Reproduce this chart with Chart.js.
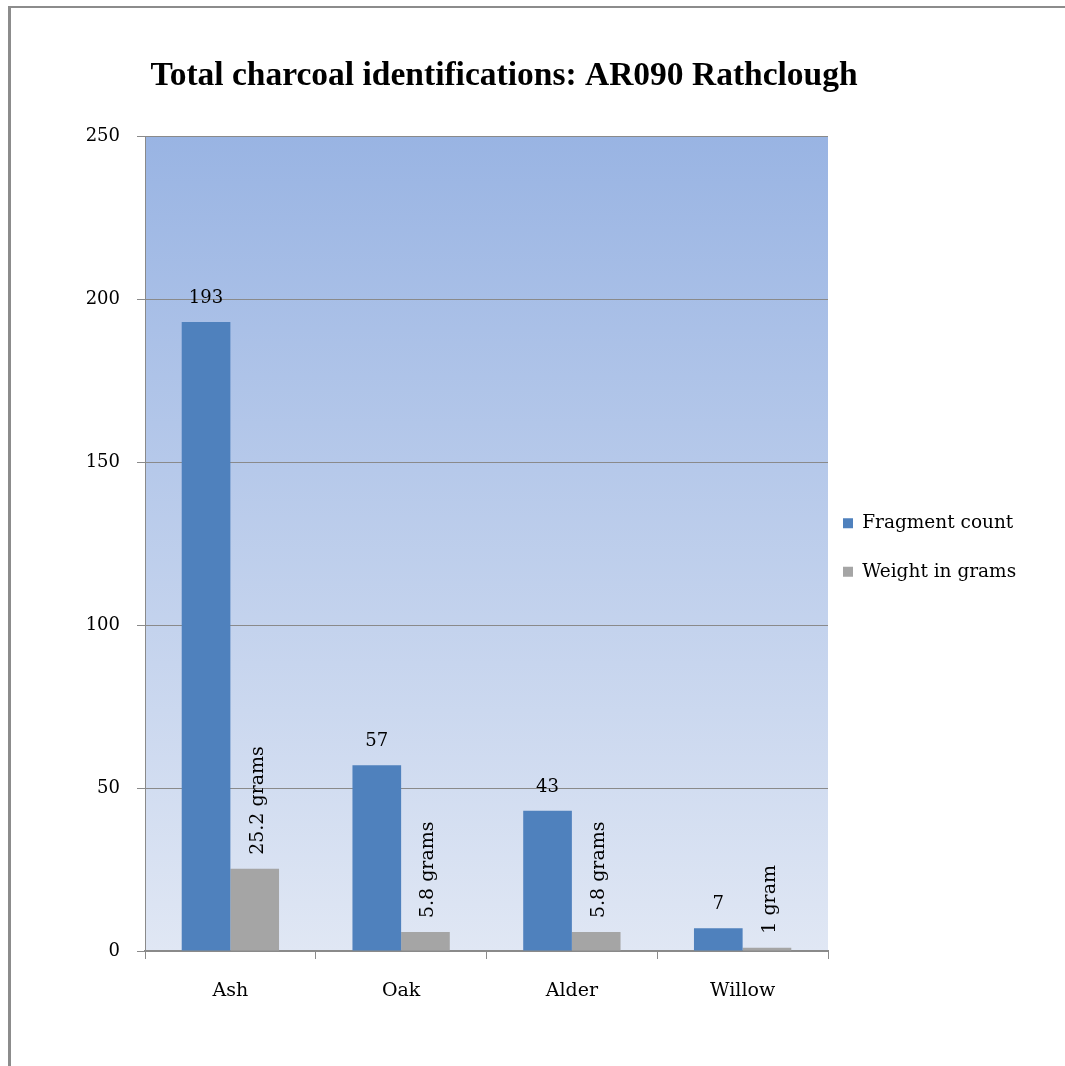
<!DOCTYPE html>
<html>
<head>
<meta charset="utf-8">
<script src="https://cdn.jsdelivr.net/npm/chart.js@4.4.1/dist/chart.umd.min.js"></script>
<style>
  html, body { margin: 0; padding: 0; background: #fff; overflow: hidden; }
  #wrap { position: relative; width: 1065px; height: 1066px; }
  #myChart { position: absolute; left: 0; top: 0; }
  #frame {
    position: absolute; left: 8px; top: 6px; width: 1100px; height: 1100px;
    border-top: 2px solid #8c8c8c; border-left: 3px solid #8c8c8c;
    pointer-events: none;
  }
</style>
</head>
<body>
<div id="wrap">
  <canvas id="myChart" width="1065" height="1066"></canvas>
  <div id="frame"></div>
</div>
<script>
// species and what was found for each
const species = ['Ash', 'Oak', 'Alder', 'Willow'];
const fragmentCount = [193, 57, 43, 7];
const weightGrams = [25.2, 5.8, 5.8, 1];
const countLabels = ['193', '57', '43', '7'];
const weightLabels = ['25.2 grams', '5.8 grams', '5.8 grams', '1 gram'];

Chart.defaults.font.family = 'DejaVu Serif';
Chart.defaults.color = '#000';

const axisGrey = '#8a8a8a';

// blue fade behind the bars
const plotBackground = {
  id: 'plotBackground',
  beforeDraw(chart) {
    const {ctx, chartArea: a} = chart;
    const g = ctx.createLinearGradient(0, a.top, 0, a.bottom);
    g.addColorStop(0, '#99b4e3');
    g.addColorStop(1, '#e0e7f4');
    ctx.save();
    ctx.fillStyle = g;
    ctx.fillRect(a.left, a.top, a.right - a.left, a.bottom - a.top);
    ctx.restore();
  }
};

// legend sits a bit closer to the plot and a touch lower,
// and its box runs to the canvas edge so the text isn't clipped
const legendNudge = {
  id: 'legendNudge',
  afterLayout(chart) {
    const lg = chart.legend;
    lg.left = chart.chartArea.right - 15;
    lg.right = chart.width;
    lg.width = lg.right - lg.left;
    lg.top += 4;
    lg.bottom += 4;
  }
};

// value labels: counts flat above the blue bars, weights turned up the gray ones
const barLabels = {
  id: 'barLabels',
  afterDatasetsDraw(chart) {
    const ctx = chart.ctx;
    const y = chart.scales.y;
    const blue = chart.getDatasetMeta(0).data;
    const grey = chart.getDatasetMeta(1).data;
    ctx.save();
    ctx.fillStyle = '#000';
    ctx.font = '18px "DejaVu Serif"';
    ctx.textAlign = 'center';
    ctx.textBaseline = 'middle';
    fragmentCount.forEach(function(v, i) {
      ctx.fillText(countLabels[i], blue[i].x, y.getPixelForValue(v) - 24);
    });
    ctx.font = '19px "DejaVu Serif"';
    ctx.textAlign = 'left';
    weightGrams.forEach(function(v, i) {
      ctx.save();
      ctx.translate(grey[i].x + 3, y.getPixelForValue(v) - 14);
      ctx.rotate(-Math.PI / 2);
      ctx.fillText(weightLabels[i], 0, 0);
      ctx.restore();
    });
    ctx.restore();
  }
};

var myChart = document.getElementById('myChart').getContext('2d');

var charcoalChart = new Chart(myChart, {
  type: 'bar',
  data: {
    labels: species,
    datasets: [{
      label: 'Fragment count',
      data: fragmentCount,
      backgroundColor: '#4f81bd',
      borderWidth: 0
    }, {
      label: 'Weight in grams',
      data: weightGrams,
      backgroundColor: '#a5a5a5',
      borderWidth: 0
    }]
  },
  options: {
    responsive: false,
    animation: false,
    devicePixelRatio: 1,
    categoryPercentage: 0.57,
    barPercentage: 1,
    layout: { padding: { top: 0, left: 0, right: 57, bottom: 0 } },
    plugins: {
      tooltip: { enabled: false },
      title: {
        display: true,
        text: 'Total charcoal identifications: AR090 Rathclough',
        color: '#000',
        font: { family: 'Liberation Serif', weight: 'bold', size: 33.5 },
        padding: { top: 56, bottom: 40 }
      },
      legend: {
        position: 'right',
        fullSize: false,
        maxWidth: 180,
        labels: {
          boxWidth: 10,
          boxHeight: 10,
          padding: 30,
          color: '#000',
          font: { size: 18.5 }
        }
      }
    },
    scales: {
      x: {
        afterFit: function(scale) { scale.height = 115; },
        grid: {
          display: true,
          drawOnChartArea: false,
          drawTicks: true,
          tickLength: 8,
          color: axisGrey,
          offset: true
        },
        border: { display: true, color: axisGrey, width: 2 },
        ticks: { color: '#000', padding: 21, font: { size: 19 } }
      },
      y: {
        min: 0,
        max: 250,
        afterFit: function(scale) { scale.width = 145; },
        grid: { color: axisGrey, lineWidth: 1, tickLength: 8 },
        border: { display: true, color: axisGrey, width: 1 },
        ticks: { stepSize: 50, color: '#000', padding: 17, font: { size: 18 } }
      }
    }
  },
  plugins: [plotBackground, legendNudge, barLabels]
});
</script>
</body>
</html>
